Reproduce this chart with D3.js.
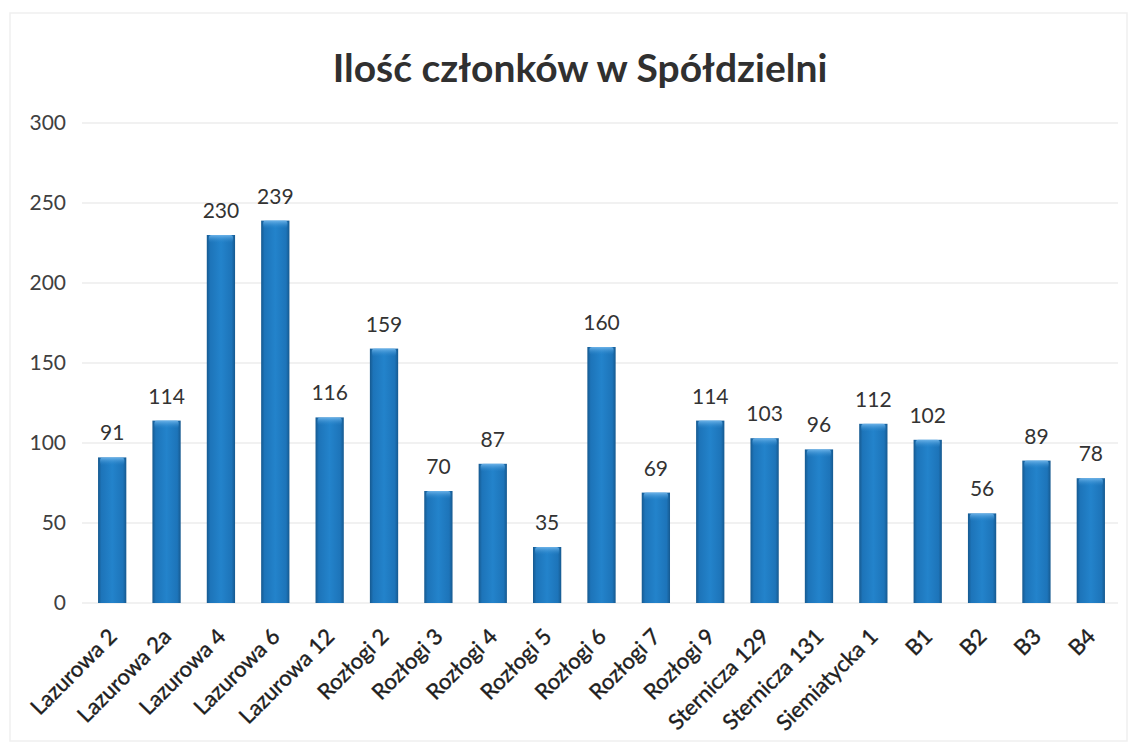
<!DOCTYPE html>
<meta charset="utf-8">
<script src="https://d3js.org/d3.v7.min.js"></script>
<style>
  body { margin: 0; background: #fff; font-family: Lato, 'Open Sans', sans-serif; }
</style>
<div id="my_dataviz"></div>
<script>
// data
var categories = ["Lazurowa 2", "Lazurowa 2a", "Lazurowa 4", "Lazurowa 6", "Lazurowa 12",
  "Rozłogi 2", "Rozłogi 3", "Rozłogi 4", "Rozłogi 5", "Rozłogi 6", "Rozłogi 7", "Rozłogi 9",
  "Sternicza 129", "Sternicza 131", "Siemiatycka 1", "B1", "B2", "B3", "B4"];
var members = [91, 114, 230, 239, 116, 159, 70, 87, 35, 160, 69, 114, 103, 96, 112, 102, 56, 89, 78];
var yTicks = [0, 50, 100, 150, 200, 250, 300];
var title = "Ilość członków w Spółdzielni";

var width = 1137, height = 750;
var margin = {top: 123, left: 85, right: 19, bottom: 147};

var svg = d3.select("#my_dataviz")
  .append("svg")
    .attr("width", width)
    .attr("height", height);

// faint chart frame
svg.append("rect")
  .attr("x", 10).attr("y", 13)
  .attr("width", 1117).attr("height", 728)
  .attr("fill", "none")
  .attr("stroke", "#efefef")
  .attr("stroke-width", 1.5);

// gradients for the rounded bar look
var defs = svg.append("defs");
var grad = defs.append("linearGradient").attr("id", "barGrad")
  .attr("x1", "0%").attr("x2", "100%").attr("y1", "0%").attr("y2", "0%");
grad.append("stop").attr("offset", "0%").attr("stop-color", "#16598f");
grad.append("stop").attr("offset", "12%").attr("stop-color", "#1d74b9");
grad.append("stop").attr("offset", "50%").attr("stop-color", "#2383cb");
grad.append("stop").attr("offset", "88%").attr("stop-color", "#1d74b9");
grad.append("stop").attr("offset", "100%").attr("stop-color", "#16598f");
var topGrad = defs.append("linearGradient").attr("id", "topGrad")
  .attr("x1", "0%").attr("x2", "0%").attr("y1", "0%").attr("y2", "100%");
topGrad.append("stop").attr("offset", "0%").attr("stop-color", "#74b8ec").attr("stop-opacity", 0.9);
topGrad.append("stop").attr("offset", "100%").attr("stop-color", "#2a86cc").attr("stop-opacity", 0);

var g = svg.append("g")
  .attr("transform", "translate(" + margin.left + "," + margin.top + ")");
var w = width - margin.left - margin.right;
var h = height - margin.top - margin.bottom;

var x = d3.scaleBand()
  .domain(categories)
  .range([0, w])
  .paddingInner(0.48)
  .paddingOuter(0.24);

var y = d3.scaleLinear()
  .domain([0, 300])
  .range([h, 0]);

// grid lines
g.selectAll(".grid")
  .data(yTicks)
  .enter()
  .append("line")
    .attr("x1", -3).attr("x2", w)
    .attr("y1", function(d) { return y(d); })
    .attr("y2", function(d) { return y(d); })
    .attr("stroke", "#ececec")
    .attr("stroke-width", 1.5);

// Y axis labels
var yAxis = g.append("g")
  .call(d3.axisLeft(y).tickValues(yTicks).tickSize(0).tickPadding(19));
yAxis.select(".domain").remove();
yAxis.selectAll("text")
  .style("font-family", "Lato, sans-serif")
  .style("font-size", "21px")
  .attr("fill", "#404040");

// bars
g.selectAll(".bar")
  .data(members)
  .enter()
  .append("rect")
    .attr("class", "bar")
    .attr("x", function(d, i) { return x(categories[i]); })
    .attr("y", function(d) { return y(d); })
    .attr("width", x.bandwidth())
    .attr("height", function(d) { return h - y(d); })
    .attr("fill", "url(#barGrad)");

// top highlight of each bar
g.selectAll(".barTop")
  .data(members)
  .enter()
  .append("rect")
    .attr("x", function(d, i) { return x(categories[i]) + 2; })
    .attr("y", function(d) { return y(d); })
    .attr("width", x.bandwidth() - 4)
    .attr("height", 8)
    .attr("rx", 3)
    .attr("fill", "url(#topGrad)");

// value labels
g.selectAll(".val")
  .data(members)
  .enter()
  .append("text")
    .attr("x", function(d, i) { return x(categories[i]) + x.bandwidth() / 2; })
    .attr("y", function(d) { return y(d) - 17; })
    .attr("text-anchor", "middle")
    .style("font-family", "Lato, sans-serif")
    .style("font-size", "21px")
    .attr("fill", "#333")
    .text(function(d) { return d; });

// X axis labels, rotated
var xAxis = g.append("g")
  .attr("transform", "translate(0," + h + ")")
  .call(d3.axisBottom(x).tickSize(0).tickPadding(0));
xAxis.select(".domain").remove();
xAxis.selectAll("text")
  .attr("y", 0)
  .attr("dy", 0)
  .attr("text-anchor", "end")
  .attr("transform", "translate(6,35) rotate(-45)")
  .style("font-family", "Lato, sans-serif")
  .style("font-size", "22px")
  .style("stroke", "#1e1e1e")
  .style("stroke-width", "0.4px")
  .attr("fill", "#1e1e1e");

// title
svg.append("text")
  .attr("x", 580)
  .attr("y", 82)
  .attr("text-anchor", "middle")
  .style("font-family", "Lato, sans-serif")
  .style("font-weight", "bold")
  .style("font-size", "39px")
  .attr("fill", "#303030")
  .text(title);
</script>
